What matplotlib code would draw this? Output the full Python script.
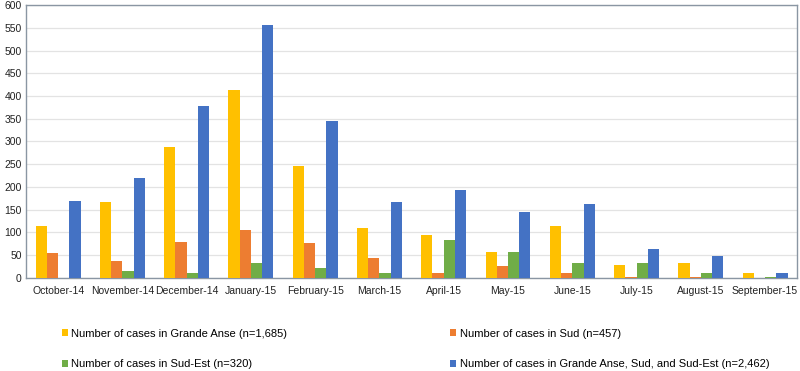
import matplotlib.pyplot as plt
import numpy as np

plt.rcParams['font.family'] = ['Liberation Sans', 'DejaVu Sans']

months = ['October-14', 'November-14', 'December-14', 'January-15', 'February-15',
          'March-15', 'April-15', 'May-15', 'June-15', 'July-15', 'August-15',
          'September-15']
grande_anse = [114, 166, 289, 414, 246, 109, 94, 58, 115, 29, 34, 10]
sud = [56, 37, 80, 106, 78, 43, 12, 26, 10, 2, 2, 0]
sud_est = [0, 15, 10, 32, 21, 12, 84, 57, 34, 33, 10, 2]
total = [170, 219, 379, 557, 344, 166, 193, 144, 162, 64, 48, 10]

labels = ['Number of cases in Grande Anse (n=1,685)',
          'Number of cases in Sud (n=457)',
          'Number of cases in Sud-Est (n=320)',
          'Number of cases in Grande Anse, Sud, and Sud-Est (n=2,462)']
colors = ['#FFC000', '#ED7D31', '#70AD47', '#4472C4']

fig = plt.figure(figsize=(8, 3.71), dpi=100)
ax = fig.add_axes([0.0325, 0.2507, 0.964, 0.7358])

index = np.arange(len(months))
bar_width = 0.175
series = [grande_anse, sud, sud_est, total]
bars = []
for i, (vals, lab, col) in enumerate(zip(series, labels, colors)):
    b = ax.bar(index + (i - 1.5) * bar_width, vals, bar_width, color=col,
               label=lab, zorder=3)
    bars.append(b)

ax.set_xlim(-0.5, len(months) - 0.5)
ax.set_ylim(0, 600)
ax.set_yticks(np.arange(0, 601, 50))
ax.set_xticks(index)
ax.set_xticklabels(months)
ax.tick_params(axis='both', length=0, labelsize=7.5, colors='#222222')
ax.tick_params(axis='x', pad=6)
ax.tick_params(axis='y', pad=3)
ax.grid(axis='y', color='#e3e3e3', linewidth=0.9, zorder=0)
for s in ax.spines.values():
    s.set_color('#8a96a3')
    s.set_linewidth(1.0)

# legend: rows GA | Sud, Sud-Est | total
order = [0, 2, 1, 3]
fig.legend([bars[k] for k in order], [labels[k] for k in order],
           ncol=2, loc='upper left', bbox_to_anchor=(0.077, 0.114),
           frameon=False, fontsize=8, handlelength=0.55, handleheight=0.55,
           handletextpad=0.3, columnspacing=14.7, labelspacing=1.85,
           borderaxespad=0, borderpad=0)

plt.savefig('out.png', dpi=100)
